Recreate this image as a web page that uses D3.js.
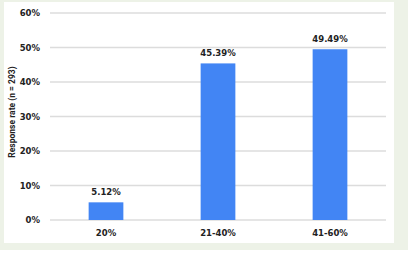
<!DOCTYPE html>
<html>
<head>
<meta charset="utf-8">
<script src="https://cdn.jsdelivr.net/npm/d3@7"></script>
<style>
  body { margin: 0; background: #fff; }
  text { font-family: "DejaVu Sans", sans-serif; font-weight: bold; fill: #222; }
</style>
</head>
<body>
<svg id="graph"></svg>
<script>
var categories = ["20%", "21-40%", "41-60%"];
var values = [5.12, 45.39, 49.49];
var yTicks = [0, 10, 20, 30, 40, 50, 60];

var svg = d3.select("#graph")
    .attr("width", 408)
    .attr("height", 266);

// page background + white card
svg.append("rect").attr("x", 0).attr("y", 0).attr("width", 408).attr("height", 250).attr("fill", "#edf2e7");
svg.append("rect").attr("x", 4).attr("y", 2).attr("width", 390).attr("height", 241).attr("fill", "#fff");

var margin = {top: 13, left: 50},
    width = 336,
    height = 207;

var x = d3.scaleBand().domain(categories).range([0, width]),
    y = d3.scaleLinear().domain([0, 60]).range([height, 0]);

var g = svg.append("g")
    .attr("transform", "translate(" + margin.left + "," + margin.top + ")");

// gridlines
g.selectAll(".grid")
  .data(yTicks)
  .enter().append("line")
    .attr("x1", 0).attr("x2", width)
    .attr("y1", function(d) { return y(d); })
    .attr("y2", function(d) { return y(d); })
    .attr("stroke", "#dcdcdc")
    .attr("stroke-width", 1.5);

var yaxis = g.append("g")
    .call(d3.axisLeft(y).tickValues(yTicks).tickSize(0).tickPadding(10)
      .tickFormat(function(d) { return d + "%"; }));
yaxis.select(".domain").remove();
yaxis.selectAll("text").attr("font-size", 8.5).attr("font-family", null).attr("fill", "#222");

var xaxis = g.append("g")
    .attr("transform", "translate(0," + height + ")")
    .call(d3.axisBottom(x).tickSize(0).tickPadding(10));
xaxis.select(".domain").remove();
xaxis.selectAll("text").attr("font-size", 8.5).attr("font-family", null).attr("fill", "#222");

var bw = x.step() * 0.31;
var data = categories.map(function(c, i) { return {cat: c, val: values[i]}; });

g.selectAll(".bar")
  .data(data)
  .enter().append("rect")
    .attr("class", "bar")
    .attr("x", function(d) { return x(d.cat) + x.bandwidth() / 2 - bw / 2; })
    .attr("y", function(d) { return y(d.val); })
    .attr("width", bw)
    .attr("height", function(d) { return height - y(d.val); })
    .attr("fill", "#4285f4");

g.selectAll(".lbl")
  .data(data)
  .enter().append("text")
    .attr("x", function(d) { return x(d.cat) + x.bandwidth() / 2; })
    .attr("y", function(d) { return y(d.val) - 7; })
    .attr("text-anchor", "middle")
    .attr("font-size", 8.5)
    .text(function(d) { return d.val.toFixed(2) + "%"; });

svg.append("text")
    .attr("transform", "translate(15,112) rotate(-90)")
    .attr("text-anchor", "middle")
    .attr("font-size", 8.5)
    .style("font-family", "Roboto, sans-serif")
    .text("Response rate (n = 293)");
</script>
</body>
</html>
